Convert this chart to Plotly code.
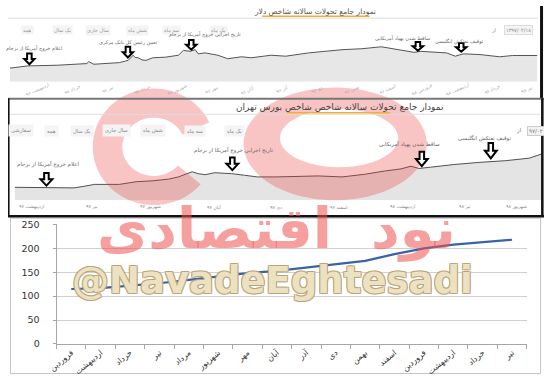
import numpy as np
import plotly.graph_objects as go

W, H = 544, 380

# ---------------- data ----------------
months = ["فروردین", "اردیبهشت", "خرداد", "تیر", "مرداد", "شهریور", "مهر", "آبان",
          "آذر", "دی", "بهمن", "اسفند", "فروردین", "اردیبهشت", "خرداد", "تیر"]
index_values = [115, 117, 122, 127, 134, 141, 148, 153, 160, 166, 174, 188, 200, 208, 213, 218]
y_ticks = [0, 50, 100, 150, 200, 250]

# dollar index screenshot (time position, relative level)
dollar_t = [2, 20, 50, 80, 82, 87, 113, 122, 127, 129, 132, 136, 140, 147, 160, 173, 178, 185,
            190, 193, 200, 213, 223, 237, 247, 267, 282, 305, 339, 359, 379, 392, 412, 419,
            445, 454, 462, 479, 499, 512, 537]
dollar_v = [14, 16.3, 17, 18.7, 20.7, 18, 19.7, 22, 27.3, 25, 24.7, 22.5, 22, 24.7, 25.3, 27.3,
            32.3, 31.3, 33, 28.7, 29.7, 27.3, 23.7, 25.7, 24.7, 27.3, 26.3, 29.7, 33, 34, 36,
            33.7, 30.3, 31.3, 29.7, 26.3, 28.7, 28, 25.7, 27, 27]

# Tehran stock index screenshot (time position, relative level)
tehran_t = [7, 67, 77, 88, 113, 130, 147, 163, 173, 187, 193, 200, 210, 227, 240, 253, 272,
            292, 315, 339, 362, 382, 399, 409, 417, 429, 452, 479, 505, 529, 542]
tehran_v = [13.3, 12.7, 14.3, 16.3, 16.3, 19, 20, 21.7, 24, 29.3, 27.3, 26.3, 28.3, 27.3,
            25.7, 24, 24, 24.3, 25, 24, 26.7, 30, 32.3, 35, 32.7, 34, 36.7, 39, 40.7, 43.3, 47.7]

buttons_top = ["همه", "یک سال", "سال جاری", "شش ماه", "سه ماه", "یک ماه"]
buttons_mid = ["سفارشی", "همه", "یک سال", "سال جاری", "شش ماه", "سه ماه", "یک ماه"]
mid_axis_labels = ["اردیبهشت ۹۷", "تیر ۹۷", "شهریور ۹۷", "آبان ۹۷", "دی ۹۷", "اسفند ۹۷",
                   "اردیبهشت ۹۸", "تیر ۹۸", "شهریور ۹۸"]
top_axis_labels = ["اردیبهشت ۹۷", "خرداد ۹۷", "تیر ۹۷", "مرداد ۹۷", "شهریور ۹۷", "مهر ۹۷",
                   "آبان ۹۷", "آذر ۹۷", "دی ۹۷", "بهمن ۹۷", "اسفند ۹۷", "فروردین ۹۸",
                   "اردیبهشت ۹۸", "خرداد ۹۸", "تیر ۹۸"]
events = ["اعلام خروج آمریکا از برجام", "تعیین رئیس کل بانک مرکزی",
          "تاریخ اجرایی خروج آمریکا از برجام", "ساقط شدن پهپاد آمریکایی",
          "توقیف نفتکش انگلیسی"]


def X(p):
    return p / W


def Y(p):
    return 1 - p / H


FONT = "DejaVu Sans"

fig = go.Figure()

fig.add_trace(go.Scatter(x=dollar_t, y=dollar_v, xaxis="x2", yaxis="y2", mode="lines",
                         fill="tozeroy", fillcolor="#e7e7e7",
                         line=dict(color="#555555", width=1), hoverinfo="skip"))
fig.add_trace(go.Scatter(x=tehran_t, y=tehran_v, xaxis="x3", yaxis="y3", mode="lines",
                         fill="tozeroy", fillcolor="#e4e4e4",
                         line=dict(color="#505050", width=1), hoverinfo="skip"))
fig.add_trace(go.Scatter(x=list(range(len(months))), y=index_values, mode="lines",
                         line=dict(color="#3a62a8", width=2.2), hoverinfo="skip"))

shapes = []


def poly_path(pts):
    return "M " + " L ".join(f"{X(a):.5f},{Y(b):.5f}" for a, b in pts) + " Z"


# watermark logo (red ring and C shape)
th = np.linspace(0, 2 * np.pi, 90)
outer = [(332 + 93 * np.cos(t), 142 + 58 * np.sin(t)) for t in th]
inner = [(336 + 60 * np.cos(t), 136 + 30 * np.sin(t)) for t in th[::-1]]
shapes.append(dict(type="path", xref="paper", yref="paper",
                   path=poly_path(outer) + " " + poly_path(inner), fillrule="evenodd",
                   fillcolor="rgba(235,60,60,0.3)", line=dict(width=0), layer="above"))
th2 = np.linspace(np.radians(40), np.radians(335), 70)
c_out = [(148 + 62 * np.cos(t), 145 + 60 * np.sin(t)) for t in th2]
c_in = [(148 + 32 * np.cos(t), 145 + 30 * np.sin(t)) for t in th2[::-1]]
shapes.append(dict(type="path", xref="paper", yref="paper", path=poly_path(c_out + c_in),
                   fillcolor="rgba(235,60,60,0.3)", line=dict(width=0), layer="above"))


def line(x0, y0, x1, y1, color, width):
    shapes.append(dict(type="line", xref="paper", yref="paper", x0=X(x0), y0=Y(y0),
                       x1=X(x1), y1=Y(y1), line=dict(color=color, width=width), layer="above"))


# top panel decorations
line(0, 12.5, 538, 12.5, "#dddddd", 1)
line(258, 10.5, 367, 10.5, "#f0b030", 1.5)
line(541.5, 0, 541.5, 95, "#111111", 3)
# middle panel frame
line(0, 95.5, 544, 95.5, "#777777", 2)
line(0, 111.5, 540, 111.5, "#dddddd", 1)
line(283, 110, 388, 110, "#f0b030", 1.5)
line(0.8, 95, 0.8, 217, "#111111", 1.6)
line(542.3, 95, 542.3, 217, "#111111", 2.5)
line(0, 216.5, 544, 216.5, "#111111", 2.6)
# bottom chart frame
shapes.append(dict(type="rect", xref="paper", yref="paper", x0=X(2.5), y0=Y(378.5),
                   x1=X(540.5), y1=Y(218.5), line=dict(color="#c4c4c4", width=1), layer="below"))


def arrow(xc, ytop, ybot, hw=5.5, sw=2.3):
    ym = ytop + (ybot - ytop) * 0.5
    pts = [(xc - sw, ytop), (xc + sw, ytop), (xc + sw, ym), (xc + hw, ym), (xc, ybot),
           (xc - hw, ym), (xc - sw, ym)]
    shapes.append(dict(type="path", xref="paper", yref="paper", path=poly_path(pts),
                       fillcolor="white", line=dict(color="black", width=2), layer="above"))


for a in [(21.7, 49, 60), (121.7, 42, 53), (186, 35, 45), (416, 37, 46), (460, 38, 47)]:
    arrow(*a, hw=5.2)
for a in [(39, 172, 185), (227.7, 156, 169), (420, 150, 165), (490, 141, 157)]:
    arrow(*a, hw=6)

annotations = []


def text(s, x, y, size, color, **kw):
    d = dict(text=s, x=X(x), y=Y(y), xref="paper", yref="paper", showarrow=False,
             font=dict(family=FONT, size=size, color=color), xanchor="center", yanchor="middle")
    d.update(kw)
    annotations.append(d)


# titles
text("نمودار جامع تحولات سالانه شاخص دلار", 312, 5.5, 7.5, "#555555")
text("نمودار جامع تحولات سالانه شاخص شاخص بورس تهران", 336, 104.5, 9, "#444444")

# buttons
for s, x in zip(buttons_top, [20, 55, 91, 131, 166, 214]):
    text(s, x, 25, 5, "#999999", bgcolor="#f4f4f4", borderpad=1)
text("از", 493, 25, 5, "#888888")
text("۱۳۹۷/۰۲/۱۸", 518, 25, 5, "#888888", bgcolor="#f4f4f4", bordercolor="#dddddd", borderpad=1)
for s, x in zip(buttons_mid, [13, 44, 75, 110, 147, 190, 230]):
    text(s, x, 128.5, 5.2, "#888888", bgcolor="#f4f4f4", borderpad=2)
text("از", 519, 128.5, 5.5, "#777777")
text("۹۷/۰۲", 536, 128.5, 5.5, "#777777", bgcolor="#f2f2f2", bordercolor="#cccccc", borderpad=1)

# event labels
for s, (x, y) in zip(events, [(26, 44), (122, 37.5), (200, 29.5), (400, 33), (458, 36.5)]):
    text(s, x, y, 5, "#666666")
for s, (x, y) in zip([events[0], events[2], events[3], events[4]],
                     [(41, 163), (229, 148.5), (407, 142.5), (484, 136.5)]):
    text(s, x, y, 5.5, "#666666")

# screenshot axis labels
for i, s in enumerate(top_axis_labels):
    text(s, 30 + i * 35.5, 86, 4.5, "#aaaaaa", textangle=-25)
for s, x in zip(mid_axis_labels, [24, 85, 145, 209, 272, 336, 400, 464, 516]):
    text(s, x, 207, 4.6, "#888888")

# watermarks
text("نود  اقتصادی", 272, 230, 56, "rgba(238,80,80,0.55)")
annotations[-1]["font"]["weight"] = "bold"
text("@NavadeEghtesadi", 268, 283, 37, "rgba(244,234,205,0.9)")
annotations[-1]["font"].update(weight="bold",
                               shadow="1px 1px 0 #b9a273, -1px -1px 0 #b9a273, 1px -1px 0 #b9a273, -1px 1px 0 #b9a273")

fig.update_layout(
    width=W, height=H, margin=dict(l=0, r=0, t=0, b=0),
    paper_bgcolor="white", plot_bgcolor="rgba(0,0,0,0)", showlegend=False,
    shapes=shapes, annotations=annotations,
    xaxis=dict(domain=[X(49.3), X(526.5)], range=[-0.5, len(months) - 0.5],
               tickmode="array", tickvals=list(range(len(months))), ticktext=months,
               tickangle=-40, ticks="", showgrid=False, zeroline=False,
               showline=True, linecolor="#a6a6a6", linewidth=1,
               tickfont=dict(family=FONT, size=8, color="#333333"),
               minor=dict(tickmode="linear", tick0=-0.5, dtick=1, ticks="outside",
                          ticklen=4, tickcolor="#a6a6a6", showgrid=False),
               anchor="y", fixedrange=True),
    yaxis=dict(domain=[Y(348), Y(225)], range=[0, 250], tickmode="array", tickvals=y_ticks,
               showgrid=True, gridcolor="#cfcfcf", gridwidth=1, zeroline=False,
               showline=True, linecolor="#a6a6a6", ticks="outside", ticklen=3,
               tickcolor="#a6a6a6", ticklabelstandoff=11,
               tickfont=dict(family=FONT, size=9.5, color="#333333"),
               anchor="x", fixedrange=True),
    xaxis2=dict(domain=[0, 1], range=[0, W], visible=False, anchor="y2"),
    yaxis2=dict(domain=[Y(78), Y(30)], range=[0, 48], visible=False, anchor="x2"),
    xaxis3=dict(domain=[0, 1], range=[0, W], visible=False, anchor="y3"),
    yaxis3=dict(domain=[Y(200), Y(140)], range=[0, 60], visible=False, anchor="x3"),
)

fig.write_html("out.html")
